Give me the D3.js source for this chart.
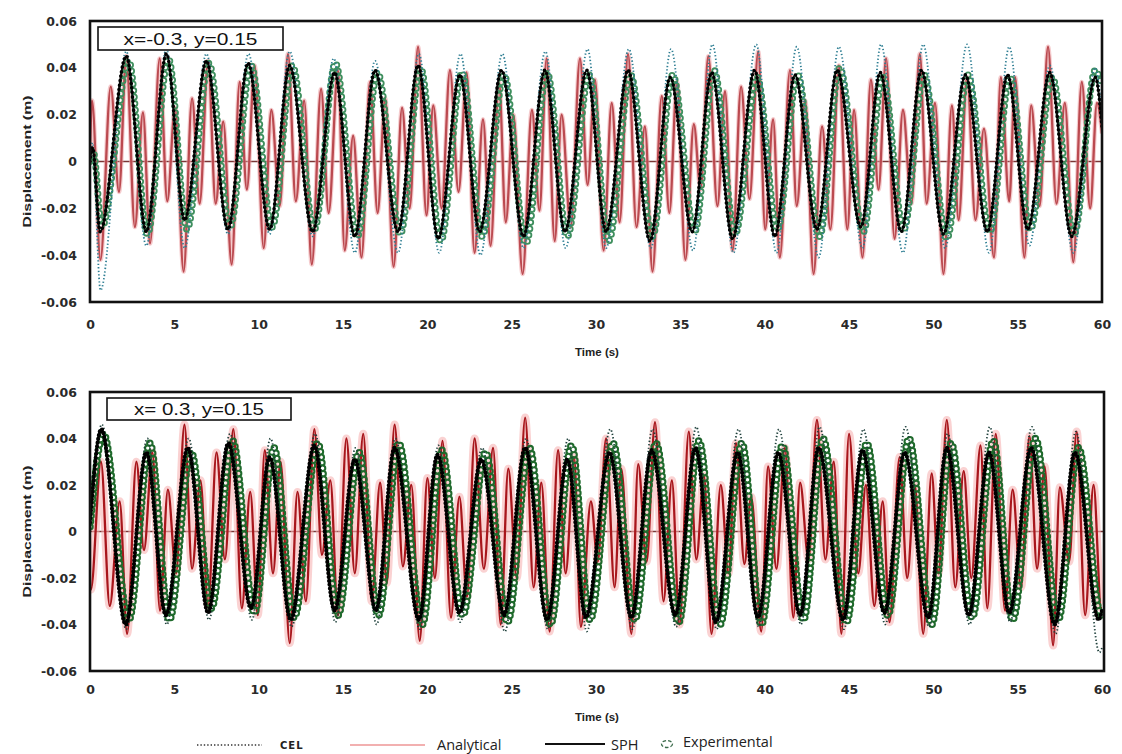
<!DOCTYPE html>
<html><head><meta charset="utf-8">
<script src="https://cdn.jsdelivr.net/npm/d3@7"></script>
<style>body{margin:0;background:#fff}svg{display:block}</style>
</head><body>
<svg id="c" width="1122" height="754"></svg>
<script>
// ---------- data ----------
const xTicks = [0,5,10,15,20,25,30,35,40,45,50,55,60];
const yTicks = [0.06,0.04,0.02,0,-0.02,-0.04,-0.06];
const yTickLabels = ["0.06","0.04","0.02","0","-0.02","-0.04","-0.06"];
const panelLabels = ["x=-0.3, y=0.15","x= 0.3, y=0.15"];
const legendLabels = ["CEL","Analytical","SPH","Experimental"];
const xTitle = "Time (s)";
const yTitle = "Displacement  (m)";

// top panel (x=-0.3, y=0.15): [time s, displacement m]
const topAnalytical = [[0,0.005],[0.12,0.026],[0.62,-0.042],[1.23,0.032],[1.72,-0.013],[2.15,0.045],[2.66,-0.028],[3.14,0.021],[3.56,-0.035],[4.13,0.044],[4.58,-0.017],[5.04,0.023],[5.55,-0.047],[6.05,0.027],[6.5,-0.018],[7.0,0.043],[7.45,-0.018],[7.9,0.017],[8.4,-0.044],[8.87,0.034],[9.3,-0.012],[9.76,0.041],[10.3,-0.037],[10.75,0.022],[11.25,-0.019],[11.74,0.046],[12.2,-0.017],[12.7,0.026],[13.15,-0.044],[13.7,0.031],[14.15,-0.022],[14.7,0.039],[15.1,-0.038],[15.6,0.011],[16.1,-0.041],[16.6,0.034],[17.05,-0.022],[17.5,0.027],[18.0,-0.045],[18.5,0.023],[18.95,-0.02],[19.45,0.049],[19.95,-0.023],[20.35,0.024],[20.85,-0.02],[21.34,0.039],[21.85,-0.013],[22.33,0.038],[22.8,-0.039],[23.3,0.018],[23.75,-0.036],[24.25,0.034],[24.65,-0.026],[25.1,0.020],[25.65,-0.048],[26.2,0.022],[26.65,-0.021],[27.07,0.044],[27.55,-0.034],[27.96,0.020],[28.5,-0.028],[29.05,0.044],[29.5,-0.010],[29.94,0.035],[30.45,-0.038],[30.93,0.025],[31.4,-0.026],[31.9,0.046],[32.4,-0.028],[32.9,0.015],[33.35,-0.047],[33.9,0.028],[34.35,-0.022],[34.8,0.034],[35.3,-0.042],[35.8,0.016],[36.2,-0.012],[36.66,0.045],[37.2,-0.019],[37.65,0.030],[38.1,-0.038],[38.6,0.032],[39.1,-0.016],[39.62,0.047],[40.03,-0.029],[40.5,0.018],[40.9,-0.041],[41.5,0.039],[41.9,-0.019],[42.4,0.026],[42.9,-0.048],[43.4,0.015],[43.9,-0.029],[44.4,0.041],[44.9,-0.029],[45.3,0.022],[45.8,-0.041],[46.3,0.035],[46.75,-0.012],[47.2,0.044],[47.7,-0.033],[48.2,0.022],[48.7,-0.018],[49.2,0.046],[49.6,-0.018],[50.1,0.025],[50.6,-0.048],[51.1,0.024],[51.5,-0.025],[52.0,0.036],[52.5,-0.025],[53.0,0.014],[53.6,-0.041],[54.0,0.036],[54.5,-0.017],[54.85,0.036],[55.4,-0.041],[55.8,0.024],[56.3,-0.019],[56.8,0.049],[57.3,-0.018],[57.8,0.025],[58.3,-0.043],[58.8,0.034],[59.3,-0.02],[59.7,0.025],[60,0.012]];
const topSPH = [[0,0.0],[0.15,0.006],[0.6,-0.030],[2.15,0.045],[3.34,-0.030],[4.53,0.046],[5.61,-0.025],[6.9,0.043],[8.18,-0.029],[9.37,0.042],[10.65,-0.029],[11.84,0.041],[13.2,-0.030],[14.5,0.038],[15.7,-0.032],[16.9,0.039],[18.26,-0.030],[19.45,0.041],[20.65,-0.033],[21.93,0.037],[23.1,-0.030],[24.4,0.039],[25.7,-0.032],[26.97,0.039],[28.16,-0.030],[29.45,0.039],[30.6,-0.030],[31.9,0.039],[33.2,-0.034],[34.4,0.036],[35.7,-0.030],[36.86,0.038],[38.1,-0.033],[39.4,0.039],[40.6,-0.032],[41.8,0.037],[43.1,-0.029],[44.3,0.039],[45.7,-0.028],[46.85,0.038],[48.1,-0.030],[49.3,0.039],[50.6,-0.031],[51.9,0.037],[53.2,-0.030],[54.4,0.037],[55.6,-0.029],[56.9,0.038],[58.2,-0.032],[59.6,0.036],[60,0.015]];
const topCEL = [[0,0.0],[0.15,0.008],[0.62,-0.055],[2.15,0.047],[3.34,-0.036],[4.53,0.048],[5.61,-0.037],[6.9,0.046],[8.18,-0.031],[9.4,0.046],[10.65,-0.031],[11.84,0.047],[13.2,-0.032],[14.45,0.044],[15.7,-0.039],[16.9,0.043],[18.26,-0.039],[19.5,0.046],[20.7,-0.039],[21.97,0.046],[23.15,-0.040],[24.45,0.046],[25.7,-0.037],[27.0,0.047],[28.2,-0.037],[29.5,0.048],[30.6,-0.037],[31.95,0.048],[33.25,-0.037],[34.45,0.048],[35.75,-0.038],[36.9,0.050],[38.15,-0.039],[39.5,0.050],[40.7,-0.039],[41.9,0.049],[43.2,-0.041],[44.4,0.049],[45.8,-0.037],[46.9,0.050],[48.2,-0.039],[49.4,0.050],[50.7,-0.037],[52.0,0.050],[53.3,-0.039],[54.5,0.049],[55.7,-0.036],[56.9,0.041],[58.3,-0.039],[59.6,0.040],[60,0.02]];
const topExp = [[0,0.0],[0.2,0.004],[0.7,-0.028],[2.3,0.043],[3.4,-0.031],[4.65,0.044],[5.75,-0.029],[7.05,0.042],[8.3,-0.028],[9.55,0.041],[10.8,-0.028],[12.0,0.041],[13.3,-0.029],[14.55,0.042],[15.85,-0.032],[17.05,0.038],[18.4,-0.031],[19.6,0.040],[20.8,-0.034],[22.05,0.038],[23.25,-0.032],[24.55,0.037],[25.85,-0.035],[27.1,0.038],[28.3,-0.032],[29.6,0.037],[30.75,-0.034],[32.05,0.037],[33.35,-0.032],[34.55,0.037],[35.85,-0.030],[37.0,0.039],[38.25,-0.031],[39.55,0.036],[40.75,-0.029],[41.95,0.037],[43.25,-0.032],[44.45,0.040],[45.85,-0.030],[47.0,0.036],[48.25,-0.029],[49.45,0.037],[50.8,-0.033],[52.05,0.037],[53.35,-0.030],[54.55,0.036],[55.75,-0.029],[57.05,0.036],[58.35,-0.031],[59.6,0.039],[60,0.032]];

// bottom panel (x=0.3, y=0.15)
const botAnalytical = [[0,-0.024],[0.05,-0.025],[0.65,0.030],[1.17,-0.032],[1.76,0.013],[2.2,-0.044],[2.75,0.030],[3.2,-0.008],[3.7,0.034],[4.15,-0.034],[4.62,0.018],[5.1,-0.018],[5.6,0.046],[6.05,-0.016],[6.55,0.022],[7.0,-0.032],[7.5,0.034],[8.0,-0.012],[8.5,0.044],[9.0,-0.033],[9.5,0.017],[9.95,-0.036],[10.36,0.035],[10.85,-0.018],[11.3,0.030],[11.84,-0.048],[12.3,0.017],[12.8,-0.030],[13.3,0.044],[13.75,-0.010],[14.25,0.022],[14.7,-0.036],[15.2,0.040],[15.7,-0.018],[16.2,0.042],[16.7,-0.030],[17.2,0.021],[17.6,-0.022],[18.06,0.046],[18.55,-0.015],[19.05,0.020],[19.55,-0.047],[20.0,0.023],[20.45,-0.020],[20.9,0.039],[21.4,-0.037],[21.9,0.015],[22.35,-0.028],[22.8,0.040],[23.35,-0.016],[23.9,0.036],[24.35,-0.040],[24.8,0.027],[25.3,-0.020],[25.8,0.049],[26.3,-0.024],[26.76,0.021],[27.25,-0.043],[27.75,0.035],[28.2,-0.018],[28.7,0.032],[29.1,-0.041],[29.7,0.013],[30.1,-0.013],[30.6,0.040],[31.1,-0.024],[31.5,0.027],[32.1,-0.044],[32.5,0.029],[33.0,-0.013],[33.5,0.047],[34.0,-0.030],[34.5,0.022],[34.95,-0.040],[35.5,0.043],[35.95,-0.012],[36.4,0.024],[36.85,-0.044],[37.4,0.020],[37.85,-0.018],[38.3,0.038],[38.8,-0.014],[39.2,0.015],[39.8,-0.043],[40.2,0.028],[40.7,-0.016],[41.2,0.036],[41.7,-0.037],[42.1,0.021],[42.6,-0.012],[43.1,0.048],[43.6,-0.012],[44.1,0.030],[44.55,-0.044],[45.0,0.042],[45.55,-0.018],[46.0,0.020],[46.5,-0.032],[47.0,0.013],[47.4,-0.039],[48.0,0.032],[48.45,-0.020],[48.9,0.020],[49.4,-0.044],[49.9,0.025],[50.3,-0.018],[50.8,0.048],[51.3,-0.024],[51.8,0.026],[52.25,-0.020],[52.8,0.037],[53.2,-0.033],[53.7,0.042],[54.25,-0.034],[54.7,0.018],[55.2,-0.024],[55.7,0.041],[56.15,-0.016],[56.6,0.028],[57.1,-0.049],[57.5,0.019],[58.05,-0.013],[58.5,0.043],[59.0,-0.036],[59.5,0.020],[59.95,-0.033],[60,-0.033]];
const botSPH = [[0,0.004],[0.67,0.044],[2.12,-0.040],[3.34,0.034],[4.5,-0.036],[5.8,0.036],[7.0,-0.035],[8.2,0.038],[9.55,-0.033],[10.65,0.032],[11.9,-0.038],[13.3,0.037],[14.5,-0.034],[15.7,0.031],[16.95,-0.034],[18.06,0.036],[19.5,-0.038],[20.6,0.033],[21.9,-0.035],[23.2,0.031],[24.55,-0.036],[25.8,0.036],[27.1,-0.038],[28.3,0.031],[29.4,-0.037],[30.8,0.034],[32.1,-0.037],[33.3,0.035],[34.7,-0.036],[35.9,0.036],[37.1,-0.039],[38.4,0.034],[39.6,-0.037],[40.8,0.034],[42.1,-0.036],[43.2,0.036],[44.65,-0.038],[45.8,0.035],[47.1,-0.035],[48.3,0.034],[49.7,-0.037],[50.8,0.036],[52.1,-0.036],[53.3,0.034],[54.5,-0.035],[55.8,0.036],[57.2,-0.040],[58.4,0.034],[59.8,-0.038],[60,-0.034]];
const botCEL = [[0,0.0],[0.7,0.046],[2.15,-0.042],[3.4,0.040],[4.55,-0.040],[5.85,0.040],[7.05,-0.038],[8.3,0.042],[9.6,-0.038],[10.7,0.040],[11.95,-0.041],[13.35,0.042],[14.55,-0.039],[15.75,0.036],[17.0,-0.040],[18.1,0.040],[19.55,-0.042],[20.65,0.037],[21.95,-0.039],[23.25,0.036],[24.6,-0.043],[25.85,0.040],[27.15,-0.042],[28.35,0.040],[29.45,-0.043],[30.85,0.044],[32.15,-0.042],[33.35,0.044],[34.75,-0.041],[35.95,0.045],[37.15,-0.042],[38.45,0.044],[39.65,-0.041],[40.85,0.044],[42.15,-0.040],[43.25,0.045],[44.7,-0.042],[45.85,0.044],[47.15,-0.040],[48.35,0.045],[49.75,-0.041],[50.85,0.042],[52.15,-0.040],[53.35,0.045],[54.55,-0.039],[55.85,0.045],[57.25,-0.044],[58.45,0.043],[59.85,-0.052],[60,-0.05]];
const botExp = [[0,0.002],[0.8,0.042],[2.3,-0.038],[3.55,0.038],[4.7,-0.038],[6.0,0.034],[7.2,-0.033],[8.45,0.039],[9.75,-0.035],[10.9,0.036],[12.1,-0.037],[13.5,0.038],[14.7,-0.036],[15.95,0.034],[17.1,-0.036],[18.3,0.038],[19.7,-0.040],[20.85,0.035],[22.1,-0.036],[23.45,0.034],[24.75,-0.039],[26.05,0.036],[27.3,-0.040],[28.55,0.037],[29.65,-0.038],[31.0,0.038],[32.3,-0.038],[33.55,0.038],[34.9,-0.039],[36.1,0.039],[37.35,-0.040],[38.65,0.038],[39.8,-0.040],[41.05,0.037],[42.3,-0.038],[43.45,0.040],[44.85,-0.039],[46.05,0.038],[47.3,-0.036],[48.55,0.040],[49.9,-0.040],[51.05,0.038],[52.3,-0.037],[53.55,0.039],[54.7,-0.038],[56.05,0.040],[57.4,-0.038],[58.6,0.036],[59.95,-0.036],[60,-0.035]];

// ---------- drawing ----------
const svg = d3.select("#c");
const defs = svg.append("defs");

const panels = [
  {top:21, bottom:302, left:90, right:1102, label:panelLabels[0], box:[98,27,185,23], textLen:134,
   an:topAnalytical, sph:topSPH, cel:topCEL, exp:topExp,
   anColor:"#bb4a50", haloColor:"#eeaaae", haloW:4.5, celColor:"#2c7d92", expColor:"#3f8f5e",
   ringW:7, holeW:3.4, gap:"0 6.5", beadW:3.6, beadGap:"0 4.5", xLabY:330, titleY:356},
  {top:392, bottom:671, left:90, right:1104, label:panelLabels[1], box:[107,398,184,22], textLen:130,
   an:botAnalytical, sph:botSPH, cel:botCEL, exp:botExp,
   anColor:"#a8161c", haloColor:"#f7b4b4", haloW:8, celColor:"#1d3f3a", expColor:"#1f6a2c",
   ringW:7.5, holeW:3.4, gap:"0 5.5", beadW:4.2, beadGap:"0 3.8", xLabY:695, titleY:721}
];

panels.forEach((p, i) => {
  const x = d3.scaleLinear().domain([0,60]).range([p.left, 1102]);
  const y = d3.scaleLinear().domain([-0.06,0.06]).range([p.bottom, p.top]);
  const line = d3.line().x(d => x(d[0])).y(d => y(d[1])).curve(d3.curveMonotoneX);

  defs.append("clipPath").attr("id","clip"+i).append("rect")
    .attr("x",p.left).attr("y",p.top).attr("width",p.right-p.left).attr("height",p.bottom-p.top);

  const g = svg.append("g").attr("clip-path","url(#clip"+i+")");

  // zero line
  g.append("line").attr("x1",p.left).attr("x2",p.right).attr("y1",y(0)).attr("y2",y(0))
    .attr("stroke","#7a3535").attr("stroke-width",1.4);

  // analytical
  g.append("path").datum(p.an).attr("d",line).attr("fill","none")
    .attr("stroke",p.haloColor).attr("stroke-width",p.haloW).attr("opacity",0.6);
  g.append("path").datum(p.an).attr("d",line).attr("fill","none")
    .attr("stroke",p.anColor).attr("stroke-width",2.3);

  // experimental: hollow rings along the curve (mask punches the centres)
  const m = defs.append("mask").attr("id","mask"+i).attr("maskUnits","userSpaceOnUse")
    .attr("x",0).attr("y",0).attr("width",1122).attr("height",754);
  m.append("rect").attr("width",1122).attr("height",754).attr("fill","#fff");
  m.append("path").datum(p.exp).attr("d",line).attr("fill","none")
    .attr("stroke","#000").attr("stroke-width",p.holeW)
    .attr("stroke-linecap","round").attr("stroke-dasharray",p.gap);
  g.append("path").datum(p.exp).attr("d",line).attr("fill","none")
    .attr("mask","url(#mask"+i+")")
    .attr("stroke",p.expColor).attr("stroke-width",p.ringW)
    .attr("stroke-linecap","round").attr("stroke-dasharray",p.gap);

  // CEL dotted
  g.append("path").datum(p.cel).attr("d",line).attr("fill","none")
    .attr("stroke",p.celColor).attr("stroke-width",1.8)
    .attr("stroke-dasharray","1.3 2.2");

  // SPH
  g.append("path").datum(p.sph).attr("d",line).attr("fill","none")
    .attr("stroke","#111").attr("stroke-width",2);
  g.append("path").datum(p.sph).attr("d",line).attr("fill","none")
    .attr("stroke","#000").attr("stroke-width",p.beadW)
    .attr("stroke-linecap","round").attr("stroke-dasharray",p.beadGap);

  // frame
  svg.append("rect").attr("x",p.left).attr("y",p.top)
    .attr("width",p.right-p.left).attr("height",p.bottom-p.top)
    .attr("fill","none").attr("stroke","#111").attr("stroke-width",2.6);

  // label box
  svg.append("rect").attr("x",p.box[0]).attr("y",p.box[1]).attr("width",p.box[2]).attr("height",p.box[3])
    .attr("fill","#fff").attr("stroke","#111").attr("stroke-width",1.6);
  svg.append("text").attr("x",p.box[0]+p.box[2]/2).attr("y",p.box[1]+p.box[3]/2+6)
    .attr("text-anchor","middle").attr("font-family","Liberation Sans, Arial, sans-serif")
    .attr("font-size",17).attr("fill","#111")
    .attr("textLength",p.textLen).attr("lengthAdjust","spacingAndGlyphs").text(p.label);

  // y axis labels
  const ya = svg.append("g").attr("transform",`translate(${p.left},0)`)
    .call(d3.axisLeft(y).tickValues(yTicks).tickFormat((d,k)=>yTickLabels[k]).tickSize(0).tickPadding(13));
  ya.select(".domain").remove();
  ya.selectAll("text").attr("font-family","DejaVu Sans, sans-serif").attr("font-size",12.5)
    .attr("font-weight","bold").attr("fill","#2a2a2a");

  // x axis labels
  const xa = svg.append("g").attr("transform",`translate(0,${p.bottom})`)
    .call(d3.axisBottom(x).tickValues(xTicks).tickSize(0).tickPadding(p.xLabY - p.bottom - 10));
  xa.select(".domain").remove();
  xa.selectAll("text").attr("font-family","DejaVu Sans, sans-serif").attr("font-size",12.5)
    .attr("font-weight","bold").attr("fill","#2a2a2a");

  // titles
  svg.append("text").attr("x",597).attr("y",p.titleY).attr("text-anchor","middle")
    .attr("font-family","Liberation Sans, Arial, sans-serif").attr("font-weight","bold")
    .attr("font-size",11.5).attr("fill","#222").text(xTitle);
  const yc = (p.top + p.bottom)/2;
  svg.append("text").attr("transform",`translate(31,${yc}) rotate(-90)`).attr("text-anchor","middle")
    .attr("font-family","Liberation Sans, Arial, sans-serif").attr("font-weight","bold")
    .attr("font-size",11.5).attr("fill","#222")
    .attr("textLength",132).attr("lengthAdjust","spacingAndGlyphs").text(yTitle);
});

// ---------- legend ----------
const ly = 745;
const lg = svg.append("g");
lg.append("line").attr("x1",197).attr("x2",262).attr("y1",ly).attr("y2",ly)
  .attr("stroke","#333").attr("stroke-width",1.4).attr("stroke-dasharray","1.4 2");
lg.append("text").attr("x",280).attr("y",ly+4).attr("font-family","DejaVu Sans, sans-serif")
  .attr("font-weight","bold").attr("font-size",10).attr("letter-spacing",1).attr("fill","#222").text(legendLabels[0]);
lg.append("line").attr("x1",350).attr("x2",425).attr("y1",ly).attr("y2",ly)
  .attr("stroke","#f2b0b0").attr("stroke-width",2.2);
lg.append("text").attr("x",437).attr("y",ly+5).attr("font-family","Open Sans, sans-serif")
  .attr("font-size",14.5).attr("fill","#222").text(legendLabels[1]);
lg.append("line").attr("x1",545).attr("x2",605).attr("y1",ly-1).attr("y2",ly-1)
  .attr("stroke","#111").attr("stroke-width",1.8);
lg.append("text").attr("x",611).attr("y",ly+5).attr("font-family","Open Sans, sans-serif")
  .attr("font-size",14.5).attr("fill","#222").text(legendLabels[2]);
lg.append("ellipse").attr("cx",667).attr("cy",ly-1).attr("rx",5.5).attr("ry",3.5)
  .attr("fill","none").attr("stroke","#3a6a4a").attr("stroke-width",1.3).attr("stroke-dasharray","3.5 2");
lg.append("text").attr("x",683).attr("y",ly+2).attr("font-family","Open Sans, sans-serif")
  .attr("font-size",14.5).attr("fill","#222").text(legendLabels[3]);
</script>
</body></html>
